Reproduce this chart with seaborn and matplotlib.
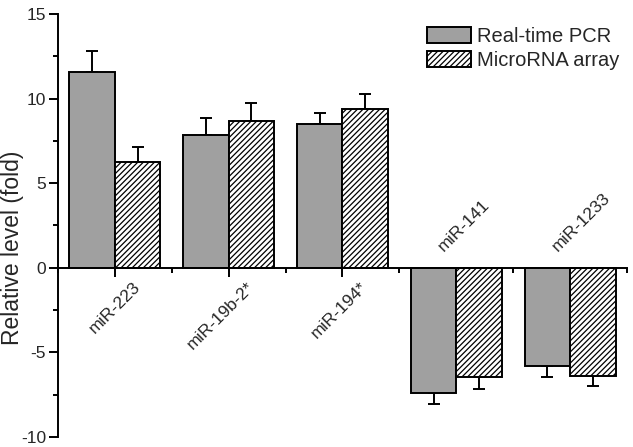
import matplotlib
matplotlib.use("Agg")
import matplotlib.pyplot as plt
import numpy as np
import pandas as pd
import seaborn as sns
from matplotlib.patches import Patch
from matplotlib.ticker import MultipleLocator

CATEGORIES = ["miR-223", "miR-19b-2*", "miR-194*", "miR-141", "miR-1233"]
SERIES = ["Real-time PCR", "MicroRNA array"]
PCR_VALUES = [11.6, 7.87, 8.49, -7.38, -5.83]
PCR_ERRORS = [1.2, 1.0, 0.67, 0.69, 0.65]
ARRAY_VALUES = [6.24, 8.68, 9.37, -6.44, -6.42]
ARRAY_ERRORS = [0.89, 1.05, 0.93, 0.71, 0.59]

GRAY = "#a0a0a0"


def main() -> None:
    sns.set_style("ticks")
    plt.rcParams["font.family"] = ["Liberation Sans", "DejaVu Sans"]
    plt.rcParams["hatch.linewidth"] = 0.9
    plt.rcParams["axes.unicode_minus"] = False

    df = pd.DataFrame(
        {
            "category": CATEGORIES * 2,
            "series": [SERIES[0]] * len(CATEGORIES) + [SERIES[1]] * len(CATEGORIES),
            "value": PCR_VALUES + ARRAY_VALUES,
        }
    )

    fig = plt.figure(figsize=(6.33, 4.47), dpi=100)
    ax = fig.add_axes([0.0916, 0.0224, 0.8989, 0.9463])

    sns.barplot(
        data=df,
        x="category",
        y="value",
        hue="series",
        order=CATEGORIES,
        hue_order=SERIES,
        palette=[GRAY, "white"],
        edgecolor="black",
        linewidth=1.4,
        width=0.8,
        errorbar=None,
        legend=False,
        ax=ax,
        zorder=2,
    )

    n = len(CATEGORIES)
    for patch in ax.patches[n:2 * n]:
        patch.set_hatch("//////")

    # one-sided error bars, pointing away from zero
    x = np.arange(n)
    for offset, vals, errs in [(-0.2, PCR_VALUES, PCR_ERRORS), (0.2, ARRAY_VALUES, ARRAY_ERRORS)]:
        vals = np.array(vals)
        errs = np.array(errs)
        lower = np.where(vals < 0, errs, 0)
        upper = np.where(vals >= 0, errs, 0)
        ax.errorbar(
            x + offset,
            vals,
            yerr=[lower, upper],
            fmt="none",
            ecolor="black",
            elinewidth=1.4,
            capsize=4.5,
            capthick=1.4,
            zorder=1,
        )

    ax.set_xlim(-0.5, n - 0.5)
    ax.set_ylim(-10, 15)
    ax.yaxis.set_major_locator(MultipleLocator(5))
    ax.yaxis.set_minor_locator(MultipleLocator(2.5))
    ax.set_xticks(x)
    ax.xaxis.set_minor_locator(MultipleLocator(1, offset=0.5))
    ax.set_xticklabels([])
    ax.set_xlabel("")
    ax.set_ylabel("Relative level (fold)", fontsize=16.5)
    ax.yaxis.set_label_coords(-0.06, 0.447)

    ax.spines["bottom"].set_position(("data", 0))
    ax.spines["top"].set_visible(False)
    ax.spines["right"].set_visible(False)
    for side in ["left", "bottom"]:
        ax.spines[side].set_linewidth(1.4)
        ax.spines[side].set_color("black")
    ax.spines["bottom"].set_zorder(3)

    ax.tick_params(axis="both", which="major", length=6.5, width=1.4, color="black")
    ax.tick_params(axis="both", which="minor", length=3.5, width=1.4, color="black")
    ax.tick_params(axis="y", labelsize=12.5, pad=2)

    for i, (label, val) in enumerate(zip(CATEGORIES, PCR_VALUES)):
        if val >= 0:
            ax.text(i + 0.2, -1.0, label, rotation=45, ha="right", va="center",
                    rotation_mode="anchor", fontsize=12.5)
        else:
            ax.text(i - 0.14, 1.1, label, rotation=45, ha="left", va="center",
                    rotation_mode="anchor", fontsize=12.5)

    handles = [
        Patch(facecolor=GRAY, edgecolor="black", linewidth=1.4, label=SERIES[0]),
        Patch(facecolor="white", edgecolor="black", linewidth=1.4, hatch="//////", label=SERIES[1]),
    ]
    ax.legend(
        handles=handles,
        loc="upper left",
        bbox_to_anchor=(0.674, 0.94),
        bbox_transform=fig.transFigure,
        frameon=False,
        fontsize=14.5,
        handlelength=2.2,
        handleheight=0.8,
        handletextpad=0.3,
        labelspacing=0.25,
        borderpad=0,
        borderaxespad=0,
    )

    fig.savefig("out.png", dpi=100)
    plt.close(fig)


if __name__ == "__main__":
    main()
